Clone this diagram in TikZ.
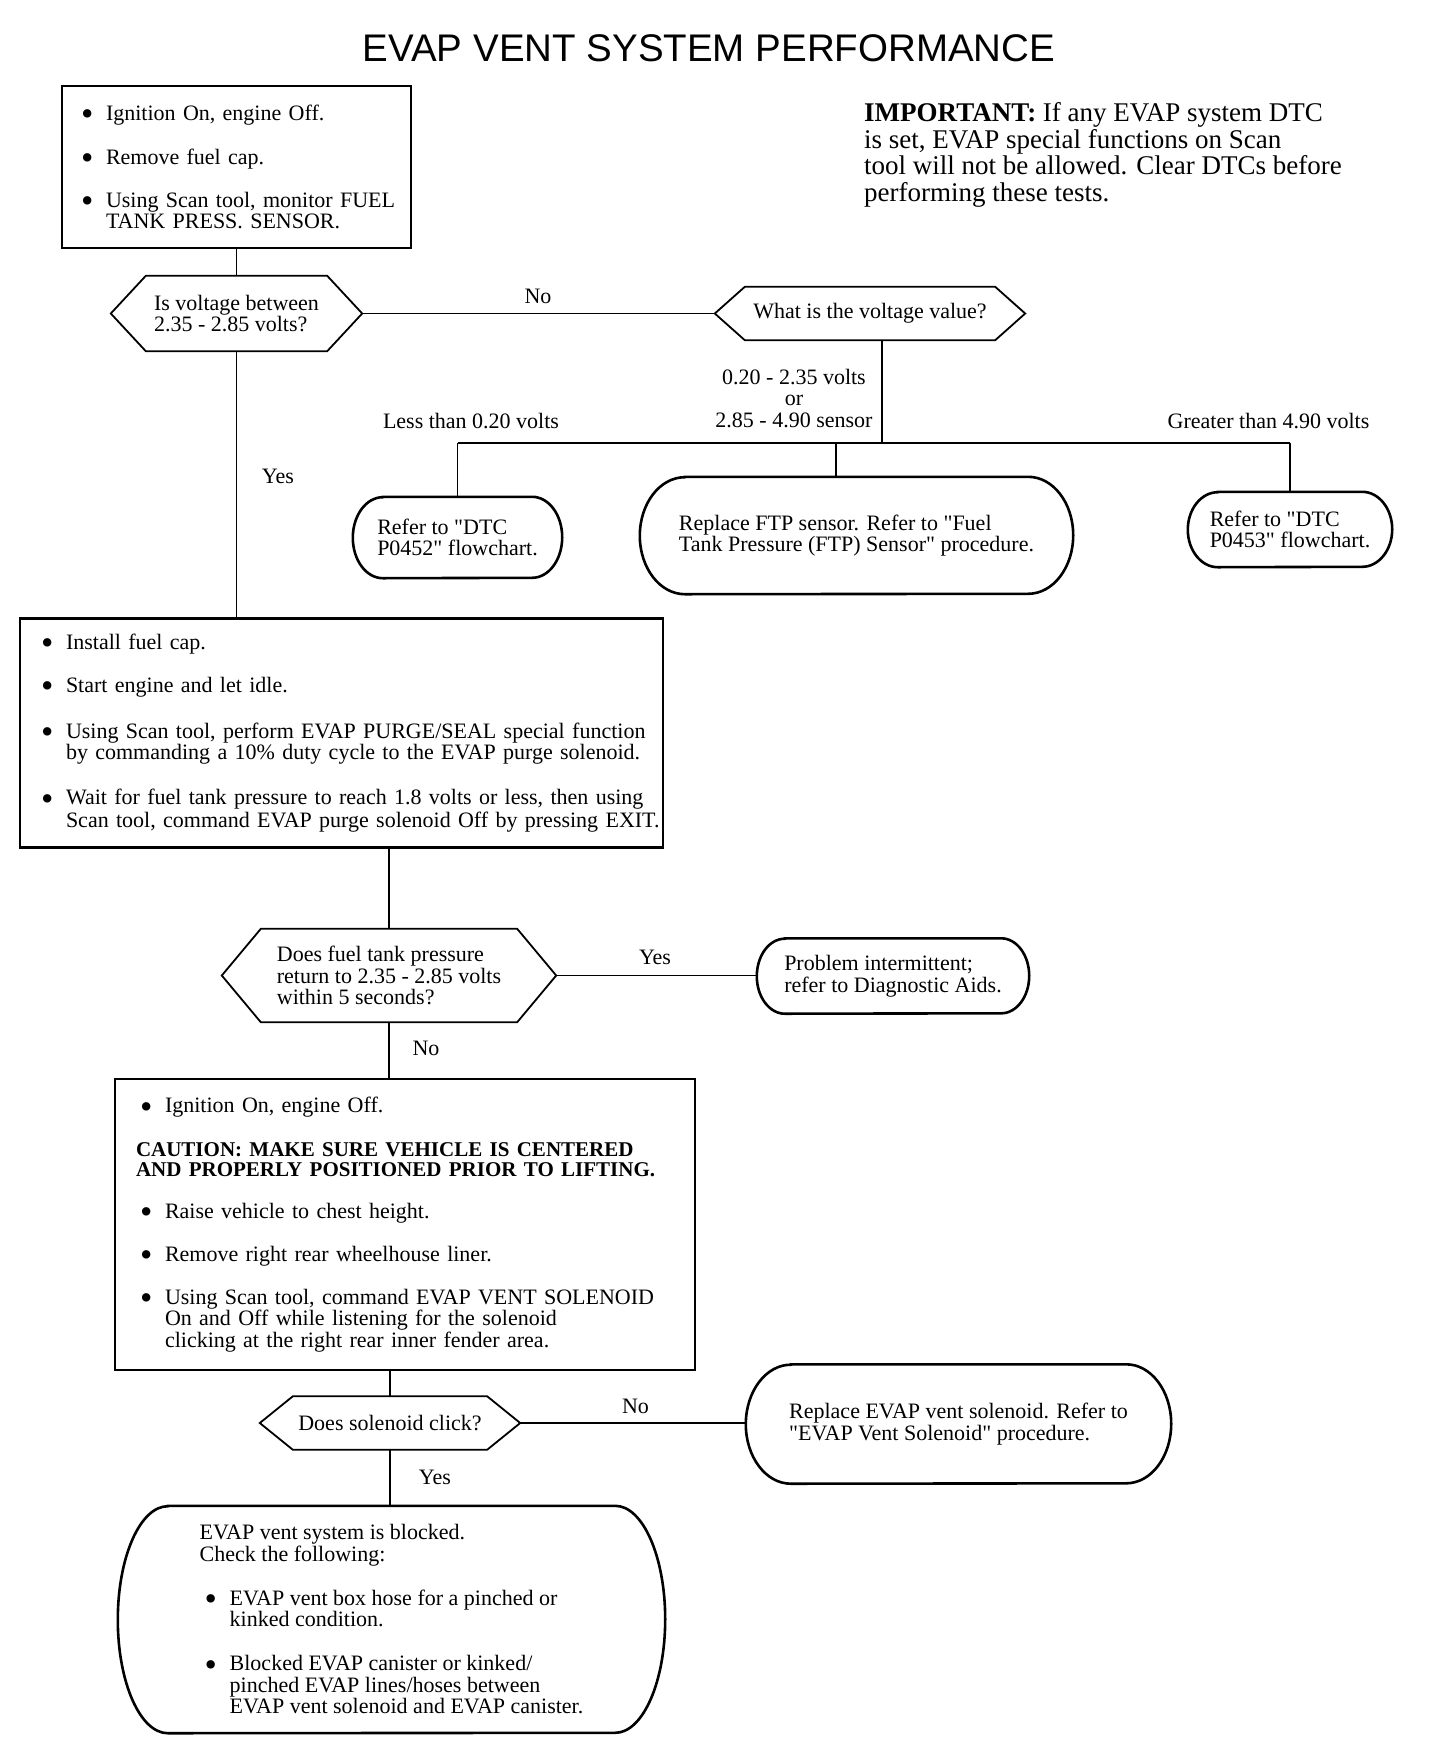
\documentclass[tikz,border=0pt]{standalone}
\usepackage{fontspec}
\setmainfont{Liberation Serif}[Ligatures=TeXOff]
\newfontfamily\titlefont{Liberation Sans}
\setlength{\parindent}{0pt}
\newcommand{\bodyfont}{\fontsize{22}{21.5}\selectfont}
\newcommand{\notefont}{\fontsize{27}{26.5}\selectfont}
\newcommand{\bigdot}{\raisebox{-5.5pt}{\scalebox{1.6}{\textbullet}}}
\newcommand{\itembul}[1]{\mbox{\makebox[25pt][l]{\bigdot}#1}}
\newcommand{\itemind}[1]{\mbox{\hspace{25pt}#1}}
\tikzset{
  stepbox/.style={rectangle, draw, line width=2.6pt, align=left, inner xsep=19pt, inner ysep=0pt, font=\bodyfont},
  askbox/.style={rectangle, align=left, inner sep=0pt, font=\bodyfont},
  endbox/.style={rectangle, align=left, inner sep=0pt, font=\bodyfont},
  hexline/.style={line width=1.8pt, line join=miter},
  ovalline/.style={line width=2.6pt},
  conn/.style={line width=1.3pt},
  lbl/.style={inner sep=0pt, font=\bodyfont}
}
\begin{document}
\begin{tikzpicture}[x=1pt, y=-1pt]
    \fill[white] (0,0) rectangle (1440,1748);

    \node (title) [anchor=base, inner sep=0pt, font={\titlefont\fontsize{38.5}{40}\selectfont}] at (709,61) {EVAP VENT SYSTEM PERFORMANCE};
    \node (note) [anchor=north west, inner sep=0pt, align=left, font=\notefont] at (864,102.5)
      {\textbf{IMPORTANT:} If any EVAP system DTC\\is set, EVAP special functions on Scan\\tool will not be allowed. Clear DTCs before\\performing these tests.};

    \node (prep) [stepbox, text width=311pt, minimum height=162pt] at (236.5,167)
      {\itembul{Ignition On, engine Off.}\\[22.5pt]
       \itembul{Remove fuel cap.}\\[21.5pt]
       \itembul{Using Scan tool, monitor FUEL}\\
       \itemind{TANK PRESS. SENSOR.}};
    \node (fuelcap) [stepbox, inner xsep=21pt, text width=601pt, minimum height=229.5pt] at (341.5,733)
      {\itembul{Install fuel cap.}\\[21.5pt]
       \itembul{Start engine and let idle.}\\[24.5pt]
       \itembul{Using Scan tool, perform EVAP PURGE/SEAL special function}\\
       \itemind{by commanding a 10\% duty cycle to the EVAP purge solenoid.}\\[23.5pt]
       \itembul{Wait for fuel tank pressure to reach 1.8 volts or less, then using}\\[1.5pt]
       \itemind{Scan tool, command EVAP purge solenoid Off by pressing EXIT.}};
    \node (lift) [stepbox, inner xsep=21pt, text width=538pt, minimum height=291pt] at (405,1224.5)
      {\makebox[4pt]{}\itembul{Ignition On, engine Off.}\\[22.5pt]
       \mbox{\fontsize{21}{20}\selectfont\textbf{CAUTION: MAKE SURE VEHICLE IS CENTERED}}\\[-2pt]
       \mbox{\fontsize{21}{20}\selectfont\textbf{AND PROPERLY POSITIONED PRIOR TO LIFTING.}}\\[20.5pt]
       \makebox[4pt]{}\itembul{Raise vehicle to chest height.}\\[21.5pt]
       \makebox[4pt]{}\itembul{Remove right rear wheelhouse liner.}\\[21.5pt]
       \makebox[4pt]{}\itembul{Using Scan tool, command EVAP VENT SOLENOID}\\
       \makebox[4pt]{}\itemind{On and Off while listening for the solenoid}\\
       \makebox[4pt]{}\itemind{clicking at the right rear inner fender area.}};

    \node (q1) [askbox, minimum width=251pt, minimum height=75pt] at (236.5,313.5) {Is voltage between\\2.35 - 2.85 volts?};
    \node (q2) [askbox, minimum width=310pt, minimum height=53pt] at (870,313.5) {What is the voltage value?};
    \node (q3) [askbox, minimum width=334pt, minimum height=93pt] at (389,975.5) {Does fuel tank pressure\\return to 2.35 - 2.85 volts\\within 5 seconds?};
    \node (q4) [askbox, minimum width=260pt, minimum height=53pt] at (390,1423) {Does solenoid click?};

    \node (dtc52)    [endbox, minimum width=209pt, minimum height=81pt]  at (457.5,537.5) {Refer to "DTC\\P0452" flowchart.};
    \node (ftp)      [endbox, minimum width=433pt, minimum height=117pt] at (856.5,535.5) {Replace FTP sensor. Refer to "Fuel\\Tank Pressure (FTP) Sensor" procedure.};
    \node (dtc53)    [endbox, minimum width=204pt, minimum height=75pt]  at (1290,529.5) {Refer to "DTC\\P0453" flowchart.};
    \node (intermit) [endbox, minimum width=272pt, minimum height=75pt]  at (893,976) {Problem intermittent;\\refer to Diagnostic Aids.};
    \node (ventsol)  [endbox, minimum width=425pt, minimum height=119pt] at (958.5,1424) {Replace EVAP vent solenoid. Refer to\\"EVAP Vent Solenoid" procedure.};
    \node (blocked)  [endbox, minimum width=547pt, minimum height=227pt] at (391.5,1619.5)
      {EVAP vent system is blocked.\\
       Check the following:\\[22.5pt]
       \makebox[5pt]{}\itembul{EVAP vent box hose for a pinched or}\\
       \makebox[5pt]{}\itemind{kinked condition.}\\[22.5pt]
       \makebox[5pt]{}\itembul{Blocked EVAP canister or kinked/}\\
       \makebox[5pt]{}\itemind{pinched EVAP lines/hoses between}\\
       \makebox[5pt]{}\itemind{EVAP vent solenoid and EVAP canister.}};

    \foreach \nm/\cx in {q1/35pt,q2/30pt,q3/39pt,q4/33pt}
      \draw[hexline] (\nm.west) -- ([xshift=\cx]\nm.north west) -- ([xshift=-\cx]\nm.north east) -- (\nm.east)
        -- ([xshift=-\cx]\nm.south east) -- ([xshift=\cx]\nm.south west) -- cycle;

    \foreach \nm/\rx/\ry in {dtc52/30pt/40.5pt,ftp/45pt/58.5pt,dtc53/30pt/37.5pt,intermit/28pt/37.5pt,ventsol/45pt/59.5pt,blocked/50pt/113.5pt}
      \draw[ovalline] ([xshift=\rx]\nm.north west) -- ([xshift=-\rx]\nm.north east)
        arc[start angle=90, end angle=-90, x radius=\rx, y radius=\ry]
        -- ([xshift=\rx]\nm.south west)
        arc[start angle=270, end angle=90, x radius=\rx, y radius=\ry] -- cycle;

    \coordinate (split) at (882,443);
    \coordinate (ftpdrop) at (836,443);

    \draw[conn] (prep.south) -- (q1.north);
    \draw[conn] (q1.east) -- (q2.west);
    \draw[conn] (q1.south) -- (q1.south |- fuelcap.north);
    \draw[conn] (q2.south -| split) -- (split);
    \draw[conn] (dtc52.north |- split) -- (dtc53.north |- split);
    \foreach \to in {dtc52,dtc53}
      \draw[conn] (\to.north |- split) -- (\to.north);
    \draw[conn] (ftpdrop) -- (ftpdrop |- ftp.north);
    \draw[conn] (q3.north |- fuelcap.south) -- (q3.north);
    \draw[conn] (q3.east) -- (q3.east -| intermit.west);
    \draw[conn] (q3.south) -- (q3.south |- lift.north);
    \draw[conn] (q4.north |- lift.south) -- (q4.north);
    \draw[conn] (q4.east) -- (q4.east -| ventsol.west);
    \draw[conn] (q4.south) -- (q4.south |- blocked.north);

    \node (no1)   [lbl] at (538,296) {No};
    \node (yes1)  [lbl] at (278,476) {Yes};
    \node (lowv)  [lbl, anchor=base] at (471,428) {Less than 0.20 volts};
    \node (midv)  [lbl, anchor=south, align=center] at (794,428) {0.20 - 2.35 volts\\or\\2.85 - 4.90 sensor};
    \node (highv) [lbl, anchor=base] at (1268.5,428) {Greater than 4.90 volts};
    \node (yes2)  [lbl] at (655,957) {Yes};
    \node (no2)   [lbl] at (426,1048) {No};
    \node (no3)   [lbl] at (635.5,1406) {No};
    \node (yes3)  [lbl] at (435,1477) {Yes};
\end{tikzpicture}
\end{document}
